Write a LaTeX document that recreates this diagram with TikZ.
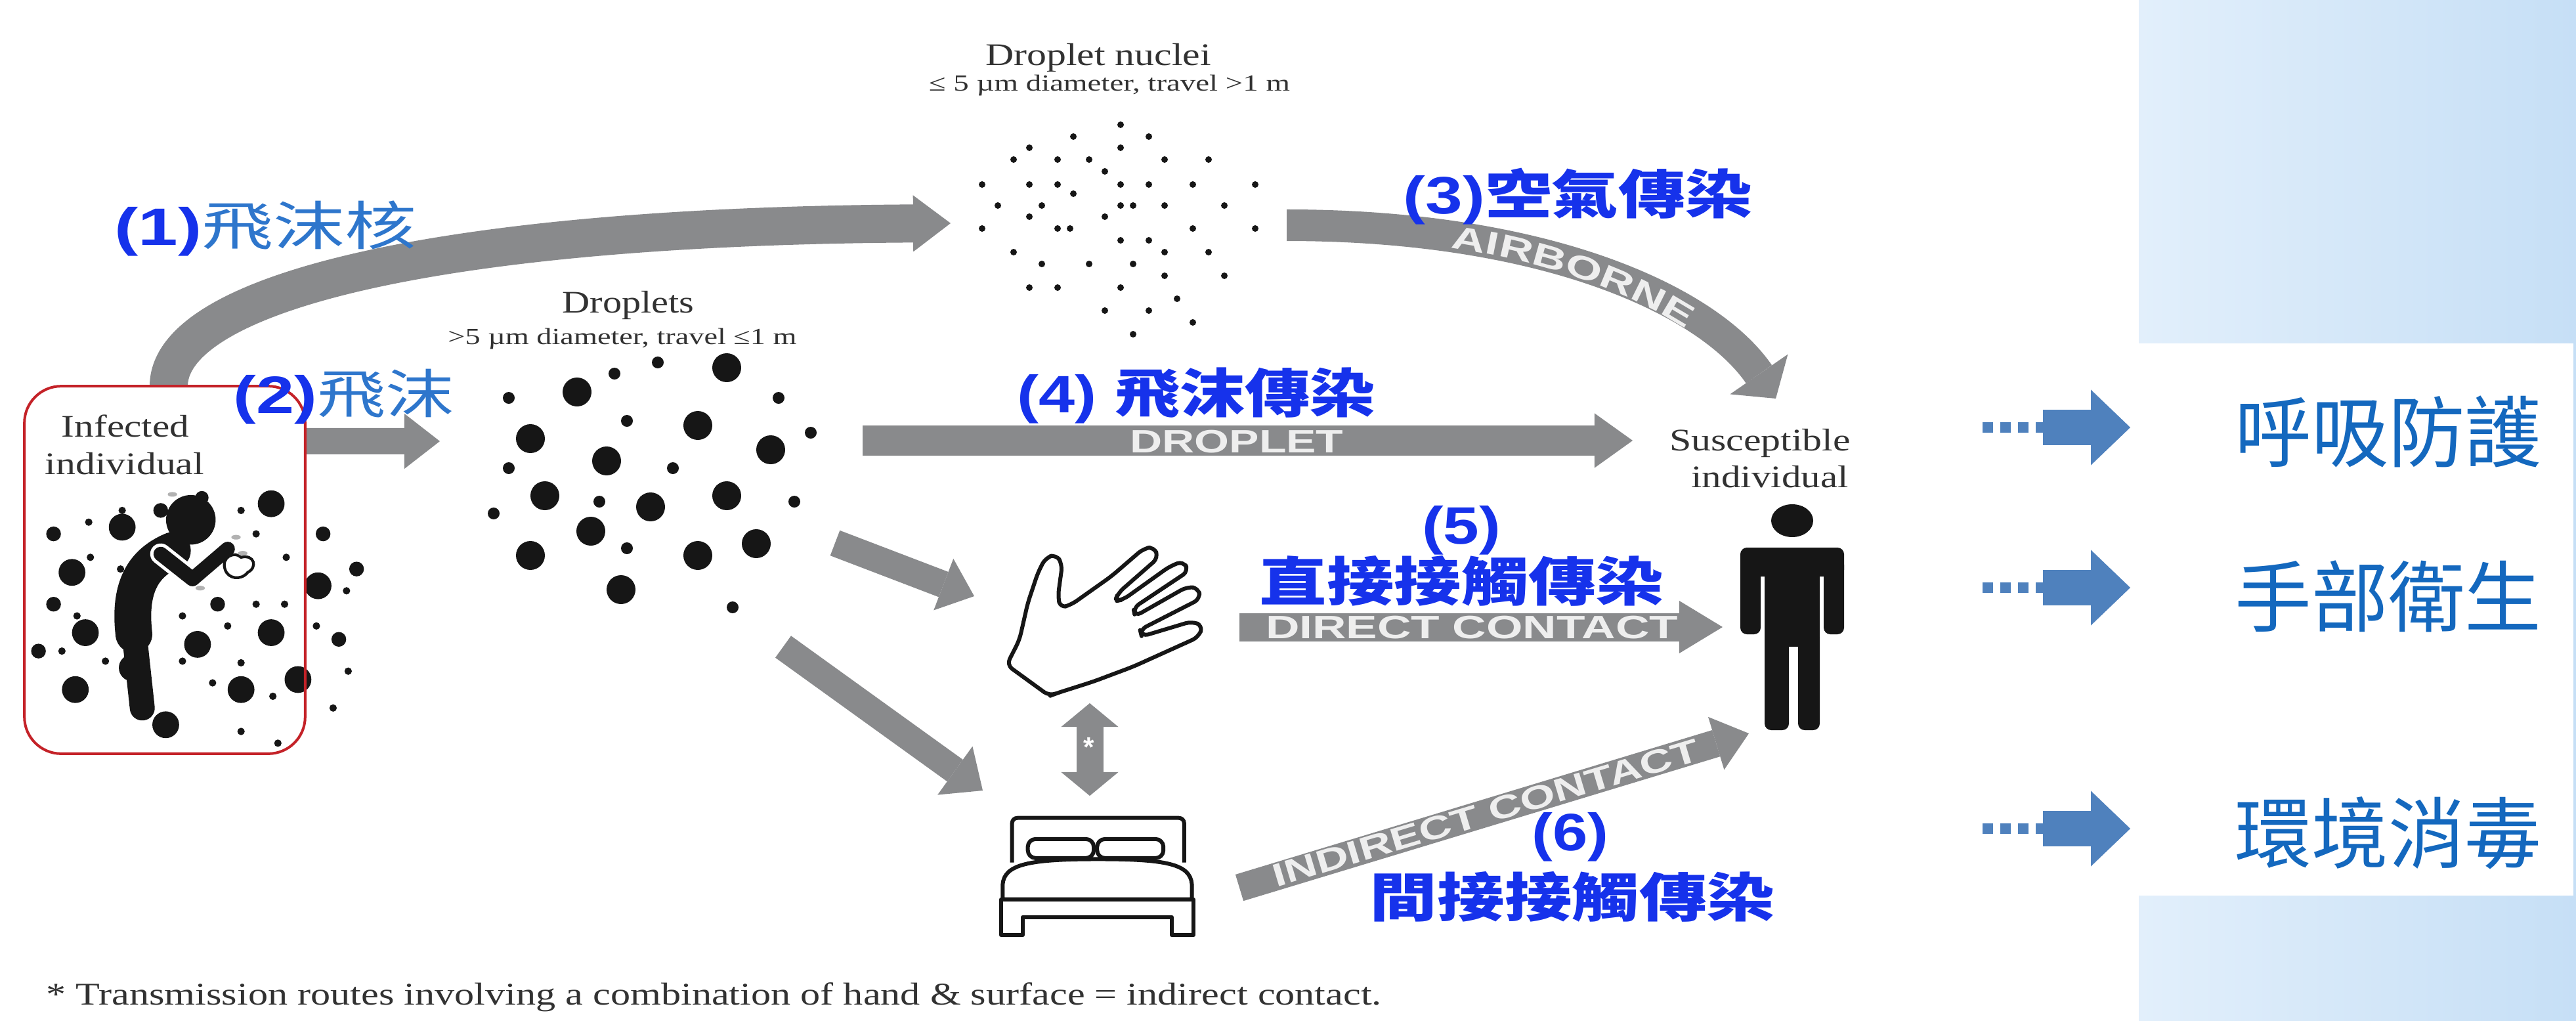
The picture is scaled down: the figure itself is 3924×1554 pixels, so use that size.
\documentclass[tikz,border=0pt]{standalone}
\usepackage{fontspec}
\usepackage{graphicx}
\setmainfont{Liberation Serif}
\setsansfont{Liberation Sans}
\newfontfamily\cjk{Noto Sans CJK TC}
\usetikzlibrary{arrows.meta, positioning, calc}

\definecolor{arrowgray}{RGB}{137,138,140}
\definecolor{stampgray}{RGB}{238,238,238}
\definecolor{routeblue}{RGB}{22,50,235}
\definecolor{softblue}{RGB}{46,118,204}
\definecolor{captiongray}{RGB}{50,50,50}
\definecolor{boxred}{RGB}{196,34,40}
\definecolor{inkblack}{RGB}{22,22,22}
\definecolor{panellight}{RGB}{226,239,251}
\definecolor{paneldark}{RGB}{198,223,246}
\definecolor{stepblue}{RGB}{79,129,189}
\definecolor{remedyblue}{RGB}{20,104,190}

% one pixel of the drawing grid
\newlength\pxu
\setlength\pxu{0.01cm}
\newcommand\wide[2]{\resizebox{#1\pxu}{\height}{#2}}

\begin{document}
\begin{tikzpicture}[x=0.01cm, y=-0.01cm,
  greyband/.style={draw=arrowgray, line width=#1},
  tiphead/.style 2 args={-{Triangle[length=#1, width=#2, line width=0pt]}},
  route/.style={inner sep=0, anchor=west, text=routeblue,
    font=\cjk\bfseries\fontsize{22.8}{24}\selectfont},
  caption/.style={inner sep=0, anchor=base, text=captiongray,
    font=\fontsize{13.6}{15}\selectfont},
  subcaption/.style={caption, font=\fontsize{10}{12}\selectfont},
  stamp/.style={inner sep=0, text=stampgray,
    font=\sffamily\bfseries\fontsize{14}{14}\selectfont},
  remedy/.style={inner sep=0, text=remedyblue,
    font=\cjk\fontsize{33.6}{36}\selectfont},
  outline/.style={draw=inkblack, line width=0.06cm, line join=round}
]
\useasboundingbox (0,0) rectangle (3924,1554);
\fill[white] (0,0) rectangle (3924,1554);

% side panel
\shade[left color=panellight, right color=paneldark] (3258,0) rectangle (3924,1554);
\fill[white] (3258,523) rectangle (3920,1364);

% end points of the routes
\coordinate (nuclei-in) at (1448,340);
\coordinate (air-from) at (1960,343);
\coordinate (air-to) at (2705,607);
\coordinate (drop-in) at (670,672);
\coordinate (droplet-from) at (1314,671);
\coordinate (droplet-to) at (2487,671);
\coordinate (direct-from) at (1888,955);
\coordinate (direct-to) at (2624,955);
\coordinate (indirect-from) at (1888,1352);
\coordinate (indirect-to) at (2664,1117);
\coordinate (hand-from) at (1272,827);
\coordinate (hand-in) at (1484,908);
\coordinate (bed-from) at (1193,985);
\coordinate (bed-in) at (1497,1204);
\coordinate (hand-low) at (1660,1071);
\coordinate (bed-top) at (1660,1212);

\node[minimum width=4.26cm, minimum height=5.58cm, inner sep=0] (infected) at (251,868) {};

% grey route arrows
\draw[greyband=0.58cm, tiphead={0.57cm}{0.86cm}]
  ([xshift=0.06cm]infected.north) .. controls (257,450) and (650,345) .. (nuclei-in);
\draw[greyband=0.40cm, tiphead={0.54cm}{0.84cm}]
  ([yshift=1.96cm]infected.east) -- (drop-in);
\draw[greyband=0.48cm, tiphead={0.45cm}{1.07cm}]
  (air-from) .. controls (2350,343) and (2600,455) .. (air-to);
\draw[greyband=0.45cm, tiphead={0.58cm}{0.83cm}] (droplet-from) -- (droplet-to);
\draw[greyband=0.43cm, tiphead={0.66cm}{0.80cm}] (direct-from) -- (direct-to);
\draw[greyband=0.42cm, tiphead={0.52cm}{0.84cm}] (indirect-from) -- (indirect-to);
\draw[greyband=0.41cm, tiphead={0.50cm}{0.84cm}] (hand-from) -- (hand-in);
\draw[greyband=0.41cm, tiphead={0.52cm}{0.91cm}] (bed-from) -- (bed-in);
\draw[greyband=0.41cm, {Triangle[length=0.36cm, width=0.87cm, line width=0pt]}-{Triangle[length=0.36cm, width=0.87cm, line width=0pt]}]
  (hand-low) -- (bed-top);
\node[text=white, font=\sffamily\bfseries\fontsize{12}{12}\selectfont, inner sep=0] (star) at (1659,1138) {*};

% words printed on the arrows
\path (air-from) .. controls (2350,343) and (2600,455) .. (air-to)
  foreach \ch/\t in {A/0.262, I/0.300, R/0.341, B/0.400, O/0.466, R/0.534, N/0.603, E/0.675}
  { node[stamp, sloped, pos=\t] {\scalebox{1.45}[1]{\ch}} };
\node[stamp] (droplet-word) at (1884,673) {\wide{325}{DROPLET}};
\node[stamp] (direct-word) at (2242,956) {\wide{628}{DIRECT CONTACT}};
\node[stamp, rotate=16.7] (indirect-word) at (2263,1238) {\wide{676}{INDIRECT CONTACT}};

% droplet nuclei
\foreach \x/\y in {1707/190,1635/208,1750/208,1568/225,1707/225,1544/243,1611/243,1659/243,
  1774/243,1841/243,1683/261,1496/281,1568/281,1611/281,1707/281,1750/281,1817/281,1912/281,
  1635/295,1520/313,1587/313,1707/313,1726/313,1774/313,1865/313,1568/330,1683/330,1496/348,
  1611/348,1630/348,1817/348,1912/348,1707/366,1750/366,1544/384,1774/384,1841/384,1587/402,
  1659/402,1726/402,1774/420,1865/420,1568/438,1611/438,1707/438,1793/455,1683/473,1750/473,
  1817/491,1726/509}
  \fill[inkblack] (\x,\y) circle (5);

% droplets
\foreach \x/\y in {1107/560,879/597,1063/648,808/668,924/702,1174/685,830/755,991/772,
  1107/755,900/809,808/846,1063/846,1152/828,946/898}
  \fill[inkblack] (\x,\y) circle (22);
\foreach \x/\y in {1002/552,936/569,775/606,1186/606,955/641,1235/659,775/713,1025/713,
  913/764,1210/764,752/782,955/835,1116/925}
  \fill[inkblack] (\x,\y) circle (9);

% coughing person in a cloud of drops
\begin{scope}[shift={(0,400)}, scale=0.51]
  \foreach \x/\y in {810/720,365/790,215/925,950/965,255/1105,590/1140,810/1105,395/1210,
    890/1245,225/1275,720/1275,495/1380}
    \fill[inkblack] (\x,\y) circle (40);
  \foreach \x/\y in {160/810,965/810,1065/915,160/1020,650/1020,115/1160,1012/1125,480/740}
    \fill[inkblack] (\x,\y) circle (22);
  \foreach \x/\y in {365/740,265/775,720/740,765/810,270/880,855/880,360/915,1035/980,
    765/1020,850/1020,230/1055,545/1055,680/1085,945/1085,185/1160,315/1190,545/1190,
    720/1195,1040/1220,635/1255,815/1295,995/1330,720/1400,830/1435}
    \fill[inkblack] (\x,\y) circle (11);
  \fill[inkblack] (570,768) circle (74);
  \fill[inkblack] (603,702) circle (20);
  \draw[inkblack, line width=0.56cm, line cap=round] (515,860) .. controls (420,900) and (385,980) .. (400,1110);
  \draw[inkblack, line width=0.38cm, line cap=round] (400,1100) -- (425,1330);
  \draw[white, line width=0.32cm, line cap=round, line join=round] (480,870) -- (575,945) -- (680,855);
  \draw[inkblack, line width=0.22cm, line cap=round, line join=round] (480,870) -- (575,945) -- (680,855);
  \draw[inkblack, fill=white, line width=1.2pt] (672,915) .. controls (660,880) and (700,860) .. (720,880)
    .. controls (760,870) and (770,910) .. (740,925) .. controls (720,950) and (680,945) .. cycle;
  \foreach \x/\y in {515/692, 705/820, 725/868, 598/972}
    \fill[gray!60] (\x,\y) ellipse (14 and 7);
\end{scope}

% infected individual frame
\draw[boxred, line width=0.04cm, rounded corners=0.56cm] (infected.south west) rectangle (infected.north east);

% hand and bed
\begin{scope}[shift={(1150,750)}, scale=0.51]
  \draw[outline, fill=white, rounded corners=0.1cm] (880,608) -- (752,515) -- (790,440) -- (815,330)
    -- (845,240) -- (868,195) -- (900,185) -- (918,215) -- (905,310) -- (912,345) -- (945,335)
    -- (1065,250) -- (1160,168) -- (1192,162) -- (1205,195) -- (1085,300) -- (1075,325)
    -- (1100,320) -- (1240,220) -- (1280,205) -- (1295,235) -- (1130,345) -- (1135,370)
    -- (1290,282) -- (1325,285) -- (1330,318) -- (1150,410) -- (1155,430) -- (1305,385)
    -- (1338,398) -- (1325,432) -- (1130,520) -- (1010,565) -- (900,600) -- cycle;
  \coordinate (hand) at (1040,390);
  \draw[outline, rounded corners=0.08cm] (768,1105) -- (768,972) -- (1282,972) -- (1282,1105);
  \draw[outline, rounded corners=0.12cm] (815,1092) rectangle (1012,1035);
  \draw[outline, rounded corners=0.12cm] (1022,1092) rectangle (1220,1035);
  \draw[outline, fill=white] (740,1215) -- (740,1170) .. controls (745,1110) and (820,1095) .. (1025,1095)
    .. controls (1230,1095) and (1300,1110) .. (1305,1170) -- (1305,1215) -- cycle;
  \draw[outline] (735,1215) -- (735,1322) -- (800,1322) -- (800,1268) -- (1245,1268)
    -- (1245,1322) -- (1310,1322) -- (1310,1215) -- cycle;
  \coordinate (bed) at (1022,1150);
\end{scope}

% susceptible individual
\coordinate (host) at (2730,970);
\fill[inkblack] (2730,793) ellipse (32 and 25);
\fill[inkblack, rounded corners=0.1cm] (2651,834) rectangle (2809,878);
\fill[inkblack, rounded corners=0.1cm] (2651,850) rectangle (2682,966);
\fill[inkblack, rounded corners=0.1cm] (2778,850) rectangle (2809,966);
\fill[inkblack] (2688,860) rectangle (2772,985);
\fill[inkblack, rounded corners=0.1cm] (2688,960) rectangle (2725,1112);
\fill[inkblack, rounded corners=0.1cm] (2739,960) rectangle (2772,1112);

% grey captions
\node[caption] (nuclei) at (1673,99) {\wide{344}{Droplet nuclei}};
\node[subcaption] (nuclei-size) at (1690,138) {\wide{550}{≤ 5 µm diameter, travel >1 m}};
\node[caption] (droplets) at (957,476) {\wide{201}{Droplets}};
\node[subcaption] (droplets-size) at (948,524) {\wide{531}{>5 µm diameter, travel ≤1 m}};
\node[caption] (infected-top) at (191,665) {\wide{194}{Infected}};
\node[caption] (infected-low) at (190,722) {\wide{242}{individual}};
\node[caption] (host-top) at (2681,686) {\wide{276}{Susceptible}};
\node[caption] (host-low) at (2696,742) {\wide{239}{individual}};
\node[caption, anchor=base west, font=\fontsize{13.7}{15}\selectfont] (note) at (70,1530)
  {\wide{2034}{* Transmission routes involving a combination of hand \& surface = indirect contact.}};

% route labels
\node[route] (route1) at (174,348) {\wide{460}{{\sffamily(1)}{\mdseries\color{softblue}飛沫核}}};
\node[route] (route2) at (355,604) {\wide{336}{{\sffamily(2)}{\mdseries\color{softblue}飛沫}}};
\node[route] (route3) at (2137,299) {\wide{531}{{\sffamily(3)}空氣傳染}};
\node[route] (route4) at (1549,602) {\wide{545}{{\sffamily(4) }飛沫傳染}};
\node[route, anchor=center] (route5) at (2226,808) {\wide{120}{\sffamily(5)}};
\node[route] (route5-name) at (1918,885) {\wide{615}{直接接觸傳染}};
\node[route, anchor=center] (route6) at (2392,1275) {\wide{117}{\sffamily(6)}};
\node[route] (route6-name) at (2086,1366) {\wide{616}{間接接觸傳染}};

% measures on the right
\foreach \name/\y/\ty/\word in {mask/651/657/呼吸防護, wash/895/908/手部衛生, clean/1262/1269/環境消毒} {
  \coordinate (\name-from) at (3020,\y);
  \coordinate (\name-mid) at (3112,\y);
  \coordinate (\name-to) at (3245,\y);
  \draw[stepblue, line width=0.16cm, dash pattern=on 0.16cm off 0.11cm] (\name-from) -- ([xshift=0.05cm]\name-mid);
  \draw[stepblue, line width=0.54cm, -{Triangle[length=0.6cm, width=1.15cm, line width=0pt]}] (\name-mid) -- (\name-to);
  \node[remedy] (\name) at (3638,\ty) {\wide{467}{\word}};
}
\end{tikzpicture}
\end{document}
